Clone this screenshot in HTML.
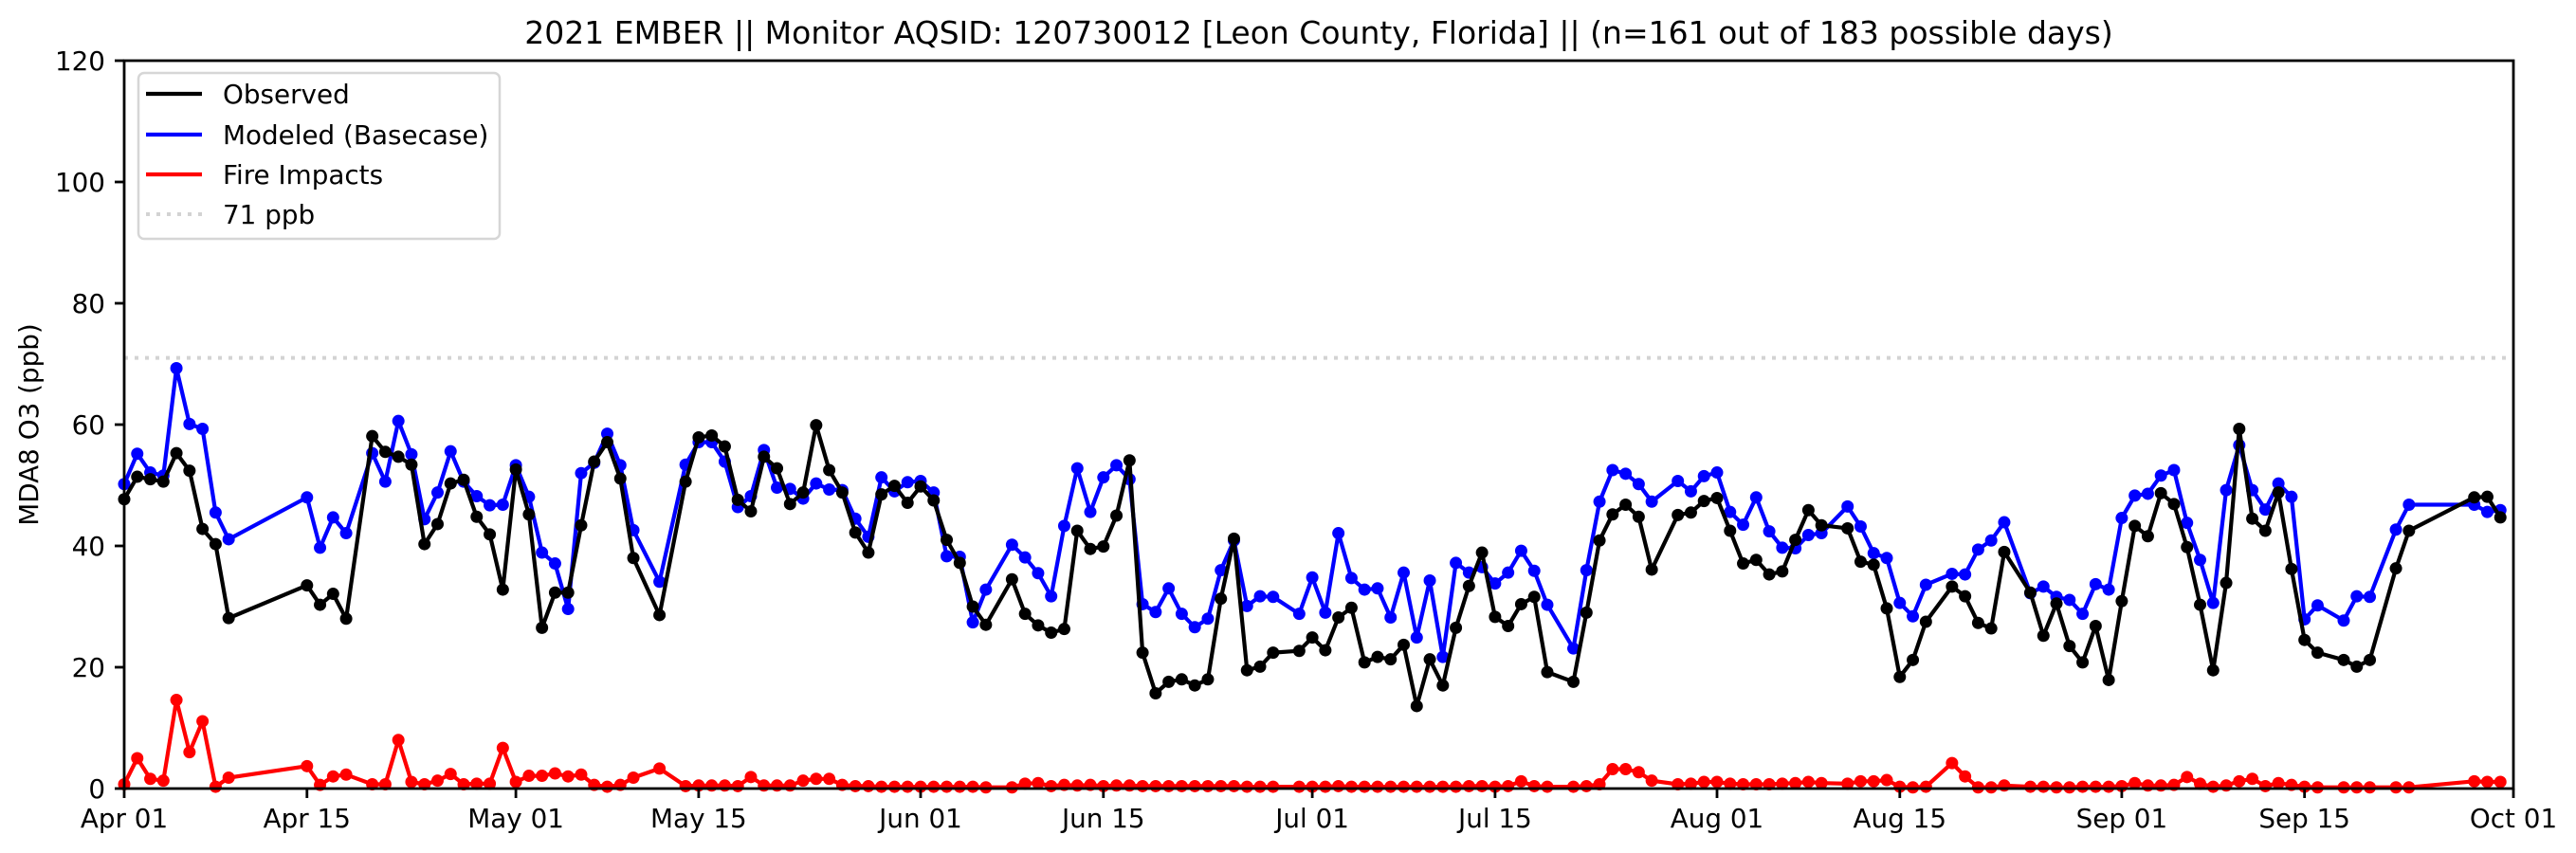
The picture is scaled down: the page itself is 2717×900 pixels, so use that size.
<!DOCTYPE html>
<html><head><meta charset="utf-8"><style>
html,body{margin:0;padding:0;background:#fff;}
svg{display:block;font-family:"DejaVu Sans","Liberation Sans",sans-serif;}
</style></head><body>
<svg id="s" width="2717" height="900" viewBox="0 0 2717 900" xmlns="http://www.w3.org/2000/svg">
<rect width="2717" height="900" fill="#fff"/>
<text x="1391" y="46" font-size="33" text-anchor="middle">2021 EMBER || Monitor AQSID: 120730012 [Leon County, Florida] || (n=161 out of 183 possible days)</text>
<text transform="translate(40,448) rotate(-90)" font-size="27.8" text-anchor="middle">MDA8 O3 (ppb)</text>
<line x1="131" y1="377.6" x2="2651" y2="377.6" stroke="#d3d3d3" stroke-width="4" stroke-dasharray="4,7"/>
<g id="series"></g>
<rect x="131" y="64" width="2520" height="768" fill="none" stroke="#000" stroke-width="2.8"/>
<g stroke="#000" stroke-width="2.8">
<line x1="121" y1="832" x2="131" y2="832"/><line x1="121" y1="704" x2="131" y2="704"/><line x1="121" y1="576" x2="131" y2="576"/><line x1="121" y1="448" x2="131" y2="448"/><line x1="121" y1="320" x2="131" y2="320"/><line x1="121" y1="192" x2="131" y2="192"/><line x1="121" y1="64" x2="131" y2="64"/>
</g>
<g font-size="27.8" text-anchor="end">
<text x="111" y="842">0</text><text x="111" y="714">20</text><text x="111" y="586">40</text><text x="111" y="458">60</text><text x="111" y="330">80</text><text x="111" y="202">100</text><text x="111" y="74">120</text>
</g>
<g id="xt" stroke="#000" stroke-width="2.8"></g>
<g id="xl" font-size="27.8" text-anchor="middle"></g>
<rect x="146" y="77" width="381" height="175" rx="6" fill="#fff" fill-opacity="0.8" stroke="#d6d6d6" stroke-width="2.5"/>
<line x1="154" y1="99" x2="213" y2="99" stroke="#000" stroke-width="4.2"/>
<line x1="154" y1="142" x2="213" y2="142" stroke="#0000ff" stroke-width="4.2"/>
<line x1="154" y1="184" x2="213" y2="184" stroke="#ff0000" stroke-width="4.2"/>
<line x1="154" y1="226" x2="213" y2="226" stroke="#d3d3d3" stroke-width="4" stroke-dasharray="4,7"/>
<g font-size="27.8">
<text x="235" y="109">Observed</text>
<text x="235" y="152">Modeled (Basecase)</text>
<text x="235" y="194">Fire Impacts</text>
<text x="235" y="236">71 ppb</text>
</g>
</svg>
<script>
var D=[
[0,47.7,50.2,0.7],[1,51.4,55.2,5.0],[2,51.0,52.1,1.6],[3,50.6,51.6,1.3],[4,55.3,69.3,14.6],[5,52.4,60.1,6.0],[6,42.8,59.3,11.1],[7,40.3,45.5,0.3],[8,28.1,41.1,1.8],
[14,33.5,48.0,3.7],[15,30.3,39.7,0.6],[16,32.1,44.7,2.0],[17,28,42.1,2.3],[19,58.1,55.3,0.7],[20,55.5,50.6,0.7],[21,54.7,60.6,8.0],[22,53.4,55.1,1.1],[23,40.3,44.4,0.7],[24,43.6,48.8,1.3],[25,50.3,55.6,2.4],[26,50.9,50.6,0.7],[27,44.8,48.2,0.8],[28,41.9,46.7,0.8],[29,32.8,46.8,6.7],[30,52.6,53.3,1.1],[31,45.2,48.1,2.1],[32,26.5,38.9,2.1],[33,32.3,37.1,2.5],[34,32.3,29.6,2.0],[35,43.4,52.0,2.3],[36,53.9,53.7,0.6],[37,57.1,58.5,0.3],
[38,51.1,53.3,0.6],[39,38.0,42.6,1.8],[41,28.6,34.1,3.3],[43,50.6,53.4,0.4],[44,57.9,57.1,0.5],[45,58.2,57.1,0.5],[46,56.4,53.9,0.5],[47,47.6,46.4,0.4],[48,45.7,48.2,1.9],[49,54.7,55.8,0.5],[50,52.8,49.6,0.5],[51,46.9,49.4,0.5],[52,48.8,47.8,1.3],[53,59.9,50.3,1.6],[54,52.5,49.3,1.6],[55,48.8,49.2,0.6],[56,42.2,44.5,0.4],[57,38.9,41.5,0.4],[58,48.5,51.3,0.3],[59,49.9,49.0,0.3],[60,47.1,50.5,0.3],[61,49.8,50.7,0.3],[62,47.5,48.8,0.3],[63,41.0,38.3,0.3],[64,37.2,38.2,0.3],[65,30.0,27.4,0.3],[66,27.0,32.8,0.2],[68,34.5,40.2,0.2],[69,28.8,38.1,0.8],[70,26.9,35.5,0.9],[71,25.7,31.7,0.4],[72,26.3,43.3,0.6],[73,42.5,52.8,0.5],[74,39.5,45.6,0.6],
[75,39.9,51.3,0.4],[76,45.0,53.3,0.5],[77,54.1,51.0,0.5],[78,22.4,30.4,0.4],[79,15.7,29.1,0.4],[80,17.6,33.0,0.4],[81,18.0,28.8,0.4],[82,17.0,26.6,0.4],[83,18.0,28.0,0.4],[84,31.3,36.0,0.4],[85,41.2,40.9,0.4],[86,19.5,30.1,0.3],[87,20.1,31.7,0.3],[88,22.4,31.6,0.3],[90,22.7,28.8,0.3],[91,24.9,34.8,0.3],[92,22.8,29.0,0.3],[93,28.2,42.1,0.4],[94,29.8,34.7,0.3],[95,20.8,32.8,0.3],[96,21.7,33.0,0.3],[97,21.3,28.2,0.3],[98,23.7,35.6,0.3],[99,13.6,24.9,0.3],[100,21.3,34.3,0.3],[101,17.0,21.7,0.3],[102,26.5,37.2,0.3],[103,33.4,35.6,0.4],[104,38.9,36.5,0.4],[105,28.3,33.8,0.3],[106,26.8,35.6,0.4],[107,30.4,39.2,1.2],[108,31.6,35.9,0.4],[109,19.2,30.3,0.3],[111,17.6,23.1,0.3],
[112,29,36,0.4],[113,40.9,47.3,0.7],[114,45.2,52.5,3.2],[115,46.8,51.9,3.2],[116,44.8,50.2,2.7],[117,36.1,47.3,1.3],[119,45.1,50.7,0.7],[120,45.5,49.0,0.8],[121,47.4,51.5,1.1],[122,47.9,52.1,1.1],[123,42.5,45.6,0.8],[124,37.1,43.5,0.7],[125,37.7,48.0,0.7],[126,35.3,42.4,0.7],[127,35.8,39.7,0.8],[128,41.0,39.6,0.9],[129,45.9,41.8,1.1],[130,43.4,42.1,0.9],[132,42.9,46.5,0.8],[133,37.4,43.2,1.2],[134,36.9,38.8,1.2],[135,29.7,38.0,1.4],[136,18.4,30.6,0.3],[137,21.2,28.4,0.2],[138,27.5,33.6,0.3],[140,33.3,35.4,4.2],[141,31.7,35.3,2.0],[142,27.3,39.4,0.2],[143,26.4,40.9,0.2],[144,39.0,43.9,0.5],[146,32.3,32.2,0.3],[147,25.2,33.3,0.3],[148,30.5,31.6,0.2],[149,23.5,31.1,0.2],
[150,20.8,28.8,0.3],[151,26.8,33.7,0.3],[152,17.9,32.8,0.3],[153,30.9,44.6,0.4],[154,43.3,48.3,0.9],[155,41.6,48.6,0.5],[156,48.7,51.6,0.5],[157,46.9,52.5,0.6],[158,39.8,43.8,1.9],[159,30.3,37.7,0.8],[160,19.5,30.6,0.3],[161,33.9,49.2,0.5],[162,59.3,56.6,1.2],[163,44.5,49.2,1.6],[164,42.5,46.0,0.4],[165,48.8,50.3,0.9],[166,36.2,48.1,0.6],[167,24.5,27.9,0.3],[168,22.4,30.2,0.2],[170,21.2,27.7,0.2],[171,20.1,31.7,0.2],[172,21.2,31.6,0.2],[174,36.3,42.7,0.2],[175,42.5,46.8,0.2],[180,48.0,46.8,1.2],[181,48.1,45.6,1.1],[182,44.7,45.9,1.1]
];
function X(d){return 131+d*2520/183;}function Y(v){return 832-v*6.4;}
var ns="http://www.w3.org/2000/svg",g=document.getElementById('series');
[[3,'#ff0000'],[2,'#0000ff'],[1,'#000000']].forEach(function(c){
 var p='';D.forEach(function(r,i){p+=(i?'L':'M')+X(r[0]).toFixed(1)+','+Y(r[c[0]]).toFixed(1);});
 var e=document.createElementNS(ns,'path');e.setAttribute('d',p);e.setAttribute('fill','none');e.setAttribute('stroke',c[1]);e.setAttribute('stroke-width','4.2');e.setAttribute('stroke-linejoin','round');g.appendChild(e);
 D.forEach(function(r){var k=document.createElementNS(ns,'circle');k.setAttribute('cx',X(r[0]));k.setAttribute('cy',Y(r[c[0]]));k.setAttribute('r','6.5');k.setAttribute('fill',c[1]);g.appendChild(k);});
});
var T=[[0,'Apr 01'],[14,'Apr 15'],[30,'May 01'],[44,'May 15'],[61,'Jun 01'],[75,'Jun 15'],[91,'Jul 01'],[105,'Jul 15'],[122,'Aug 01'],[136,'Aug 15'],[153,'Sep 01'],[167,'Sep 15'],[183,'Oct 01']];
var xt=document.getElementById('xt'),xl=document.getElementById('xl');
T.forEach(function(t){var x=X(t[0]);var l=document.createElementNS(ns,'line');l.setAttribute('x1',x);l.setAttribute('x2',x);l.setAttribute('y1',832);l.setAttribute('y2',842);xt.appendChild(l);
var s=document.createElementNS(ns,'text');s.setAttribute('x',x);s.setAttribute('y',873);s.textContent=t[1];xl.appendChild(s);});
</script>
</body></html>
